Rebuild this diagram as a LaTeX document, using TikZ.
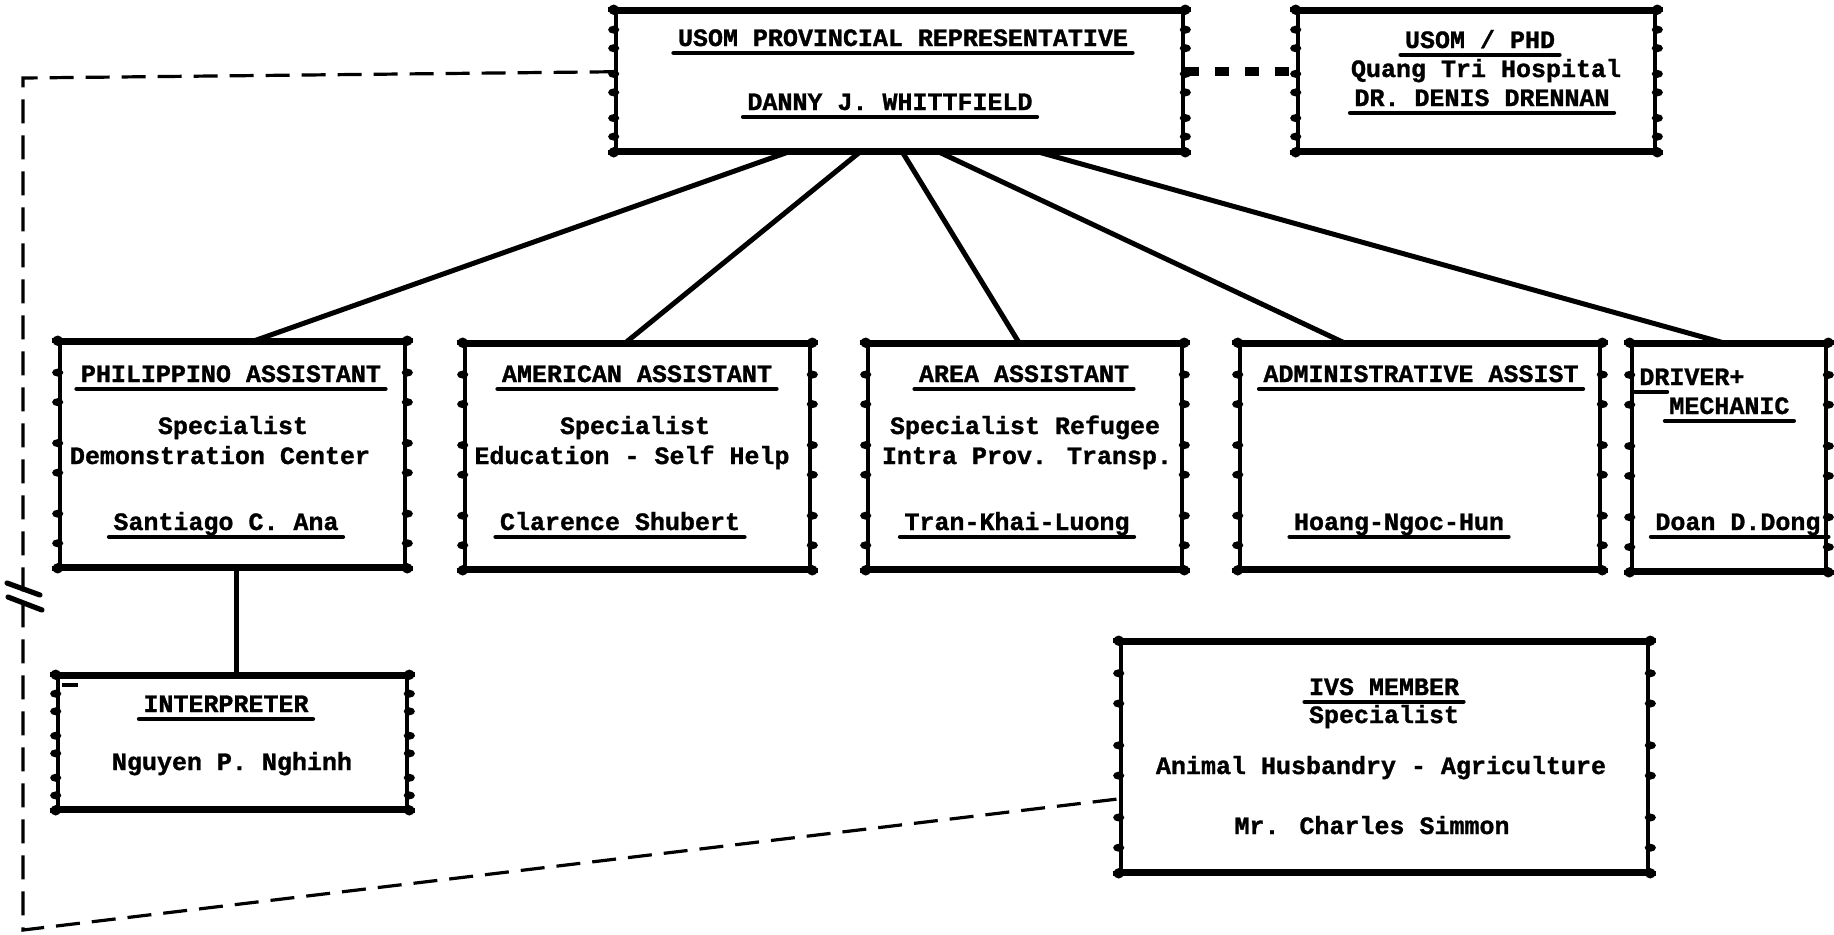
\documentclass[tikz,border=0pt]{standalone}
\usepackage{fontspec}
\newfontfamily\typer{Liberation Mono Bold}[FakeBold=1.2]
\usetikzlibrary{calc,fit}

\tikzset{
  cell/.style={draw, line width=2.3pt, inner sep=0pt},
  txt/.style={font=\typer\fontsize{12.5}{15}\selectfont, anchor=base,
              inner xsep=2pt, inner ysep=0pt, text depth=3.2pt},
  uline/.style={line width=2.2pt, line cap=round},
  link/.style={line width=2.5pt},
  dashline/.style={line width=1.6pt, dash pattern=on 12pt off 6pt},
  dotline/.style={line width=4.5pt, dash pattern=on 7pt off 8pt},
  breakmark/.style={line width=2.6pt, line cap=round},
}

% typewriter-style box trim: corner blobs, overshooting rules, beaded sides
\newcommand\boxtrim[1]{%
  \foreach \c in {north west,north east,south west,south east}{\fill (#1.\c) circle (2.6pt);}
  \draw[line width=2.3pt] ([xshift=-3pt]#1.north west) -- ([xshift=3pt]#1.north east);
  \draw[line width=2.3pt] ([xshift=-3pt]#1.south west) -- ([xshift=3pt]#1.south east);
  \foreach \f in {0.14,0.27,0.45,0.58,0.76,0.89}{%
    \fill ($(#1.north west)!\f!(#1.south west)$) ellipse (2.8pt and 2pt);
    \fill ($(#1.north east)!\f!(#1.south east)$) ellipse (2.8pt and 2pt);}%
}
\newcommand\under[1]{\draw[uline] (#1.south west) -- (#1.south east);}

\begin{document}
\begin{tikzpicture}[x=0.5pt,y=-0.5pt]
\useasboundingbox (0,0) rectangle (1834,934);

% ---- boxes
\node[cell, fit={(616,12) (1183,150)}] (prov) {};
\node[cell, fit={(1298,12) (1655,150)}] (phd) {};
\node[cell, fit={(60,343) (405,566)}] (phil) {};
\node[cell, fit={(465,345) (810,568)}] (amer) {};
\node[cell, fit={(868,345) (1182,568)}] (area) {};
\node[cell, fit={(1240,345) (1600,568)}] (admin) {};
\node[cell, fit={(1632,345) (1826,570)}] (driver) {};
\node[cell, fit={(58,677) (407,808)}] (interp) {};
\node[cell, fit={(1121,643) (1648,871)}] (ivs) {};
\foreach \b in {prov,phd,phil,amer,area,admin,driver,interp,ivs}{\boxtrim{\b}}

% ---- provincial representative
\node[txt] (provT) at (903,46) {USOM PROVINCIAL REPRESENTATIVE};
\node[txt] (provN) at (890,110) {DANNY J. WHITTFIELD};
\under{provT}\under{provN}

% ---- hospital
\node[txt] (phdT) at (1480,48) {USOM / PHD};
\node[txt] (phdH) at (1486,77) {Quang Tri Hospital};
\node[txt] (phdN) at (1482,106) {DR. DENIS DRENNAN};
\under{phdT}\under{phdN}

% ---- second row
\node[txt] (philT) at (231,382) {PHILIPPINO ASSISTANT};
\node[txt] (philS) at (233,434) {Specialist};
\node[txt] (philD) at (220,464) {Demonstration Center};
\node[txt] (philN) at (226,530) {Santiago C. Ana};
\under{philT}\under{philN}

\node[txt] (amerT) at (637,382) {AMERICAN ASSISTANT};
\node[txt] (amerS) at (635,434) {Specialist};
\node[txt] (amerD) at (632,464) {Education - Self Help};
\node[txt] (amerN) at (620,530) {Clarence Shubert};
\under{amerT}\under{amerN}

\node[txt] (areaT) at (1024,382) {AREA ASSISTANT};
\node[txt] (areaS) at (1025,434) {Specialist Refugee};
\node[txt] (areaD) at (1027,464) {Intra Prov. Transp.};
\node[txt] (areaN) at (1017,530) {Tran-Khai-Luong};
\under{areaT}\under{areaN}

\node[txt] (adminT) at (1421,382) {ADMINISTRATIVE ASSIST};
\node[txt] (adminN) at (1399,530) {Hoang-Ngoc-Hun};
\under{adminT}\under{adminN}

\node[txt, anchor=base west] (drvA) at (1635,385) {DRIVER+};
\node[txt, anchor=base west] (drvB) at (1665,414) {MECHANIC};
\node[txt, anchor=base west] (drvN) at (1651,530) {Doan D.Dong};
\draw[uline] (drvA.south west) -- ++(32,0);
\under{drvB}
\draw[uline] (drvN.south west) -- (drvN.south -| driver.east);

% ---- interpreter
\node[txt] (intT) at (226,712) {INTERPRETER};
\node[txt] (intN) at (232,770) {Nguyen P. Nghinh};
\under{intT}
\draw[line width=2pt] ([xshift=3pt,yshift=-5pt]interp.north west) -- ++(8pt,0);
\draw[line width=3pt] (interp.north west) -- ++(18pt,0);

% ---- IVS member
\node[txt] (ivsT) at (1384,695) {IVS MEMBER};
\node[txt] (ivsS) at (1384,723) {Specialist};
\node[txt] (ivsA) at (1381,774) {Animal Husbandry - Agriculture};
\node[txt] (ivsN) at (1372,834) {Mr. Charles Simmon};
\under{ivsT}

% ---- line connectors
\draw[link] ([xshift=-56pt]prov.south) -- ([xshift=11pt]phil.north);
\draw[link] ([xshift=-20pt]prov.south) -- ([xshift=-6pt]amer.north);
\draw[link] ([xshift=1.5pt]prov.south) -- ([xshift=-3pt]area.north);
\draw[link] ([xshift=20pt]prov.south) -- ([xshift=-38pt]admin.north);
\draw[link] ([xshift=70pt]prov.south) -- ([xshift=-3pt]driver.north);
\draw[link] ([xshift=2pt]phil.south) -- ([xshift=2pt]interp.north);

% ---- staff relationships
\draw[dotline] ($(prov.north east)!0.435!(prov.south east)$) -- ($(phd.north west)!0.435!(phd.south west)$);
\coordinate (ctop) at (23,78);
\coordinate (cbot) at (23,930);
\draw[dashline] ($(prov.north west)!0.435!(prov.south west)$) -- (ctop) -- (cbot)
   -- ($(ivs.north west)!0.68!(ivs.south west)$);

% break mark on the vertical run
\coordinate (brk) at (24,596);
\draw[breakmark] ([shift={(-17,-13)}]brk) -- ([shift={(16,-1)}]brk);
\draw[breakmark] ([shift={(-16,1)}]brk) -- ([shift={(18,14)}]brk);
\end{tikzpicture}
\end{document}
